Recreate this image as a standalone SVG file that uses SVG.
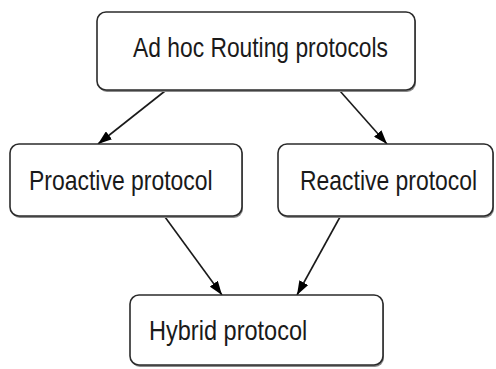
<svg xmlns="http://www.w3.org/2000/svg" width="496" height="369" viewBox="0 0 496 369">
<style>
.box{fill:#fff;stroke:#2b2b2b;stroke-width:1.6}
.sh{fill:#8a8a8a}
.t{font-family:"Liberation Sans",Arial,sans-serif;font-size:28px;fill:#1a1a1a}
.c{stroke:#1a1a1a;stroke-width:1.6;fill:none;marker-end:url(#ah)}
</style>
<defs>
<marker id="ah" viewBox="0 0 14 10" refX="14" refY="5" markerWidth="14" markerHeight="10" markerUnits="userSpaceOnUse" orient="auto">
<path d="M0,0 L14,5 L0,10 Z" fill="#000"/>
</marker>
</defs>
<rect width="496" height="369" fill="#fff"/>
<g id="connectors">
<line class="c" x1="165" y1="91" x2="98" y2="144"/>
<line class="c" x1="340" y1="91" x2="387" y2="144"/>
<line class="c" x1="165" y1="217" x2="222" y2="295"/>
<line class="c" x1="340" y1="217" x2="297" y2="295"/>
</g>
<g id="adhoc">
<rect class="sh" x="98" y="14" width="318" height="78" rx="9"/>
<rect class="box" x="97" y="12" width="318" height="78" rx="9"/>
<text class="t" transform="translate(133,57) scale(0.82,1)" x="0" y="0" textLength="311" lengthAdjust="spacingAndGlyphs">Ad hoc Routing protocols</text>
</g>
<g id="proactive">
<rect class="sh" x="11" y="146" width="232" height="72" rx="9"/>
<rect class="box" x="10" y="144" width="232" height="72" rx="9"/>
<text class="t" transform="translate(29,190) scale(0.82,1)" x="0" y="0" textLength="224" lengthAdjust="spacingAndGlyphs">Proactive protocol</text>
</g>
<g id="reactive">
<rect class="sh" x="279" y="146" width="215" height="72" rx="9"/>
<rect class="box" x="278" y="144" width="215" height="72" rx="9"/>
<text class="t" transform="translate(300,190) scale(0.82,1)" x="0" y="0" textLength="216" lengthAdjust="spacingAndGlyphs">Reactive protocol</text>
</g>
<g id="hybrid">
<rect class="sh" x="131" y="297" width="253" height="70" rx="9"/>
<rect class="box" x="130" y="295" width="253" height="70" rx="9"/>
<text class="t" transform="translate(149,340) scale(0.82,1)" x="0" y="0" textLength="193" lengthAdjust="spacingAndGlyphs">Hybrid protocol</text>
</g>
</svg>
